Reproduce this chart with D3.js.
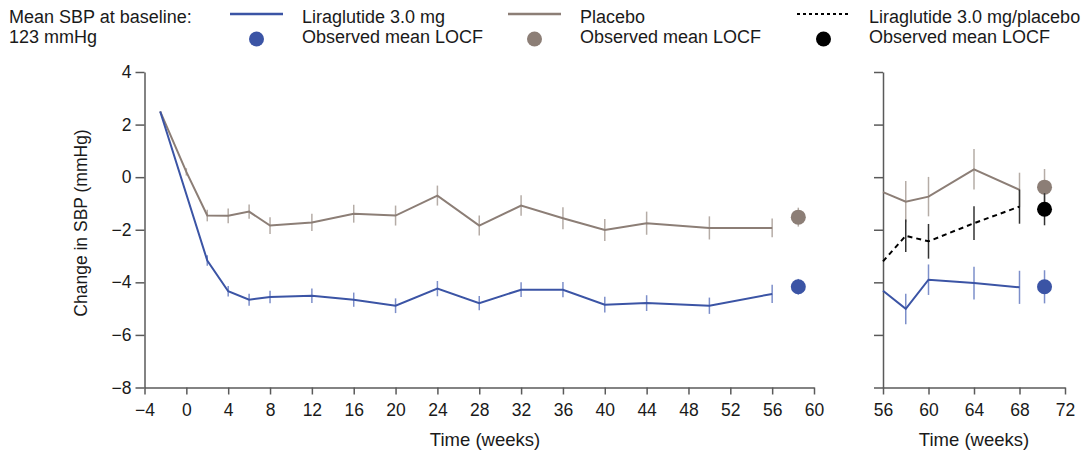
<!DOCTYPE html>
<html>
<head>
<meta charset="utf-8">
<script src="https://d3js.org/d3.v7.min.js"></script>
<style>
body { margin: 0; background: #fff; font-family: "Liberation Sans", Arial, sans-serif; }
svg text { fill: #1a1a1a; }
.axis path, .axis line { stroke: #5a5a5a; stroke-width: 1.5; }
.axis text { font-size: 17.5px; font-family: "Liberation Sans", Arial, sans-serif; fill: #1a1a1a; }
</style>
</head>
<body>
<div id="chart"></div>
<script>
var width = 1092, height = 455;

// colours
var blue = "#3b54a5", grey = "#8c7e76", black = "#000";
var blueBar = "#7d8fca", greyBar = "#b5aca6", blackBar = "#333";

// main period, weeks -4 to 60
var liraWeeks = [-2.5, 2, 4, 6, 8, 12, 16, 20, 24, 28, 32, 36, 40, 44, 50, 56];
var liraMean = [2.5, -3.17, -4.34, -4.66, -4.56, -4.51, -4.66, -4.89, -4.24, -4.79, -4.28, -4.28, -4.85, -4.79, -4.89, -4.44];
var liraErr = [0, 0.2, 0.2, 0.23, 0.24, 0.28, 0.27, 0.28, 0.29, 0.27, 0.28, 0.29, 0.3, 0.3, 0.31, 0.35];

var placeboWeeks = [-2.5, 0, 2, 4, 6, 8, 12, 16, 20, 24, 28, 32, 36, 40, 44, 50, 56];
var placeboMean = [2.5, 0.2, -1.46, -1.47, -1.31, -1.84, -1.72, -1.39, -1.46, -0.7, -1.84, -1.08, -1.56, -2.01, -1.75, -1.93, -1.93];
var placeboErr = [0, 0.14, 0.22, 0.28, 0.27, 0.32, 0.33, 0.34, 0.38, 0.38, 0.38, 0.39, 0.42, 0.42, 0.44, 0.44, 0.36];

// observed mean LOCF, main period
var locfWeek = 58.5;
var liraLocf = -4.17, liraLocfErr = 0.3;
var placeboLocf = -1.52, placeboLocfErr = 0.36;

// off-treatment extension, weeks 56 to 72
var extWeeks = [56, 58, 60, 64, 68];
var liraExt = [-4.32, -5.01, -3.9, -4.03, -4.19];
var liraExtErr = [0, 0.58, 0.58, 0.62, 0.63];
var placeboExt = [-0.57, -0.93, -0.74, 0.3, -0.48];
var placeboExtErr = [0, 0.78, 0.75, 0.77, 0.65];
var diffExt = [-3.2, -2.23, -2.44, -1.75, -1.12];
var diffExtErr = [0, 0.62, 0.66, 0.64, 0.65];

var extLocfWeek = 70.2;
var extLocf = [-4.17, -0.38, -1.22];
var extLocfErr = [0.63, 0.69, 0.61];

var yTicks = [4, 2, 0, -2, -4, -6, -8];
var xTicksMain = d3.range(-4, 61, 4);
var xTicksExt = [56, 60, 64, 68, 72];

var svg = d3.select("#chart").append("svg")
  .attr("width", width).attr("height", height);

var y = d3.scaleLinear().domain([-8, 4]).range([387.5, 72]);
var xMain = d3.scaleLinear().domain([-4, 60]).range([144.5, 814]);
var xExt = d3.scaleLinear().domain([56, 72]).range([883, 1065]);

function drawAxes(x, ticks, labelY) {
  svg.append("g").attr("class", "axis")
    .attr("transform", "translate(0," + y(-8) + ")")
    .call(d3.axisBottom(x).tickValues(ticks).tickSize(7).tickSizeOuter(0).tickPadding(9.5));
  var ya = svg.append("g").attr("class", "axis")
    .attr("transform", "translate(" + x.range()[0] + ",0)")
    .call(d3.axisLeft(y).tickValues(yTicks).tickSize(9).tickSizeOuter(0).tickPadding(4));
  if (!labelY) ya.selectAll("text").remove();
}
drawAxes(xMain, xTicksMain, true);
drawAxes(xExt, xTicksExt, false);

svg.append("text").attr("x", 485).attr("y", 446).attr("text-anchor", "middle")
  .style("font-size", "18.5px").text("Time (weeks)");
svg.append("text").attr("x", 974).attr("y", 446).attr("text-anchor", "middle")
  .style("font-size", "18.5px").text("Time (weeks)");
svg.append("text").attr("transform", "translate(87,223) rotate(-90)")
  .attr("text-anchor", "middle").style("font-size", "17.5px").text("Change in SBP (mmHg)");

function series(x, weeks, means, errs, color, barColor, dash) {
  var pts = weeks.map(function (w, i) { return { w: w, m: means[i], e: errs[i] }; });
  svg.append("g").selectAll("line").data(pts.filter(function (d) { return d.e > 0; }))
    .enter().append("line")
    .attr("x1", function (d) { return x(d.w); }).attr("x2", function (d) { return x(d.w); })
    .attr("y1", function (d) { return y(d.m - d.e); }).attr("y2", function (d) { return y(d.m + d.e); })
    .style("stroke", barColor).style("stroke-width", 1.5);
  var line = d3.line().x(function (d) { return x(d.w); }).y(function (d) { return y(d.m); });
  svg.append("path").datum(pts).attr("d", line)
    .style("fill", "none").style("stroke", color).style("stroke-width", 2)
    .style("stroke-dasharray", dash || null);
}

function locf(x, w, m, e, color, barColor) {
  svg.append("line").attr("x1", x(w)).attr("x2", x(w))
    .attr("y1", y(m - e)).attr("y2", y(m + e))
    .style("stroke", barColor).style("stroke-width", 1.5);
  svg.append("circle").attr("cx", x(w)).attr("cy", y(m)).attr("r", 7.5).style("fill", color);
}

series(xMain, placeboWeeks, placeboMean, placeboErr, grey, greyBar);
series(xMain, liraWeeks, liraMean, liraErr, blue, blueBar);
locf(xMain, locfWeek, placeboLocf, placeboLocfErr, grey, greyBar);
locf(xMain, locfWeek, liraLocf, liraLocfErr, blue, blueBar);

series(xExt, extWeeks, placeboExt, placeboExtErr, grey, greyBar);
series(xExt, extWeeks, diffExt, diffExtErr, black, blackBar, "5,4");
series(xExt, extWeeks, liraExt, liraExtErr, blue, blueBar);
locf(xExt, extLocfWeek, extLocf[1], extLocfErr[1], grey, greyBar);
locf(xExt, extLocfWeek, extLocf[2], extLocfErr[2], black, blackBar);
locf(xExt, extLocfWeek, extLocf[0], extLocfErr[0], blue, blueBar);

// legend
var legendItems = [
  { x: 230, line: blue, dash: null, dot: blue, label: "Liraglutide 3.0 mg" },
  { x: 508, line: grey, dash: null, dot: grey, label: "Placebo" },
  { x: 797, line: black, dash: "3,3", dot: black, label: "Liraglutide 3.0 mg/placebo" }
];
svg.append("text").attr("x", 9).attr("y", 22.5).style("font-size", "18px").text("Mean SBP at baseline:");
svg.append("text").attr("x", 9).attr("y", 43).style("font-size", "18px").text("123 mmHg");
legendItems.forEach(function (d) {
  svg.append("line").attr("x1", d.x).attr("x2", d.x + 53).attr("y1", 14).attr("y2", 14)
    .style("stroke", d.line).style("stroke-width", d.dash ? 2 : 2.5)
    .style("stroke-dasharray", d.dash);
  svg.append("circle").attr("cx", d.x + 26.5).attr("cy", 39).attr("r", 7.5).style("fill", d.dot);
  svg.append("text").attr("x", d.x + 72).attr("y", 22.5).style("font-size", "18px").text(d.label);
  svg.append("text").attr("x", d.x + 72).attr("y", 43).style("font-size", "18px").text("Observed mean LOCF");
});
</script>
</body>
</html>
